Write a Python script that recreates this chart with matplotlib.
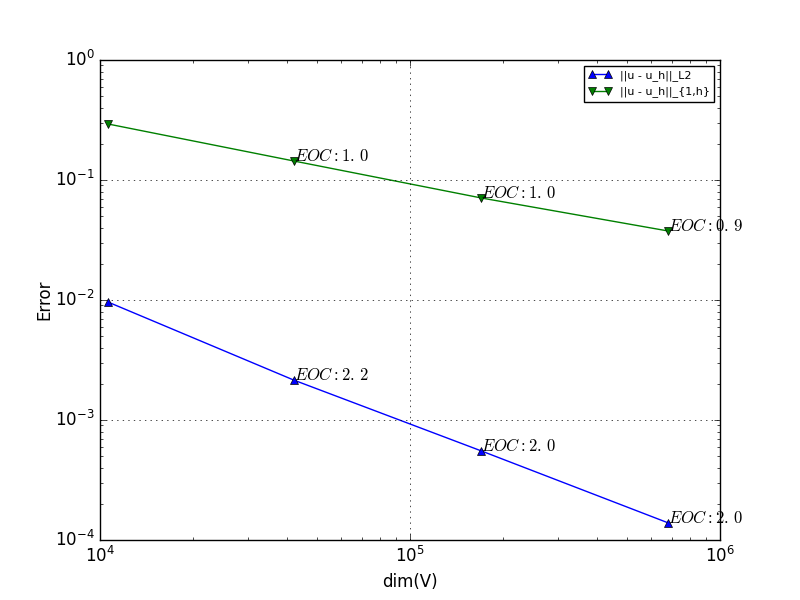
import matplotlib
matplotlib.use('Agg')
from matplotlib import pyplot as plt

plt.style.use('classic')

dims = [10609, 42200, 170000, 680000]
err_l2 = [0.00962, 0.00215, 0.000552, 0.000139]
err_h1 = [0.293, 0.144, 0.0708, 0.0376]
eoc_l2 = ['2.2', '2.0', '2.0']
eoc_h1 = ['1.0', '1.0', '0.9']


def eoc_label(s):
    # old mathtext put a small gap after the decimal point
    return '$EOC: %s$' % s.replace('.', '.\\,')


fig = plt.figure(figsize=(8, 6))
ax = fig.add_subplot(111)
ax.loglog(dims, err_l2, 'b^-', label='||u - u_h||_L2')
ax.loglog(dims, err_h1, 'gv-', label='||u - u_h||_{1,h}')

for i in range(3):
    ax.text(dims[i + 1], err_l2[i + 1], eoc_label(eoc_l2[i]))
    ax.text(dims[i + 1], err_h1[i + 1], eoc_label(eoc_h1[i]))

ax.set_xlim(1e4, 1e6)
ax.set_ylim(1e-4, 1e0)
ax.grid(True)
ax.set_xlabel('dim(V)')
ax.set_ylabel('Error', labelpad=1)
ax.legend(loc='upper right', prop={'size': 8})

fig.savefig('out.png', dpi=100)
